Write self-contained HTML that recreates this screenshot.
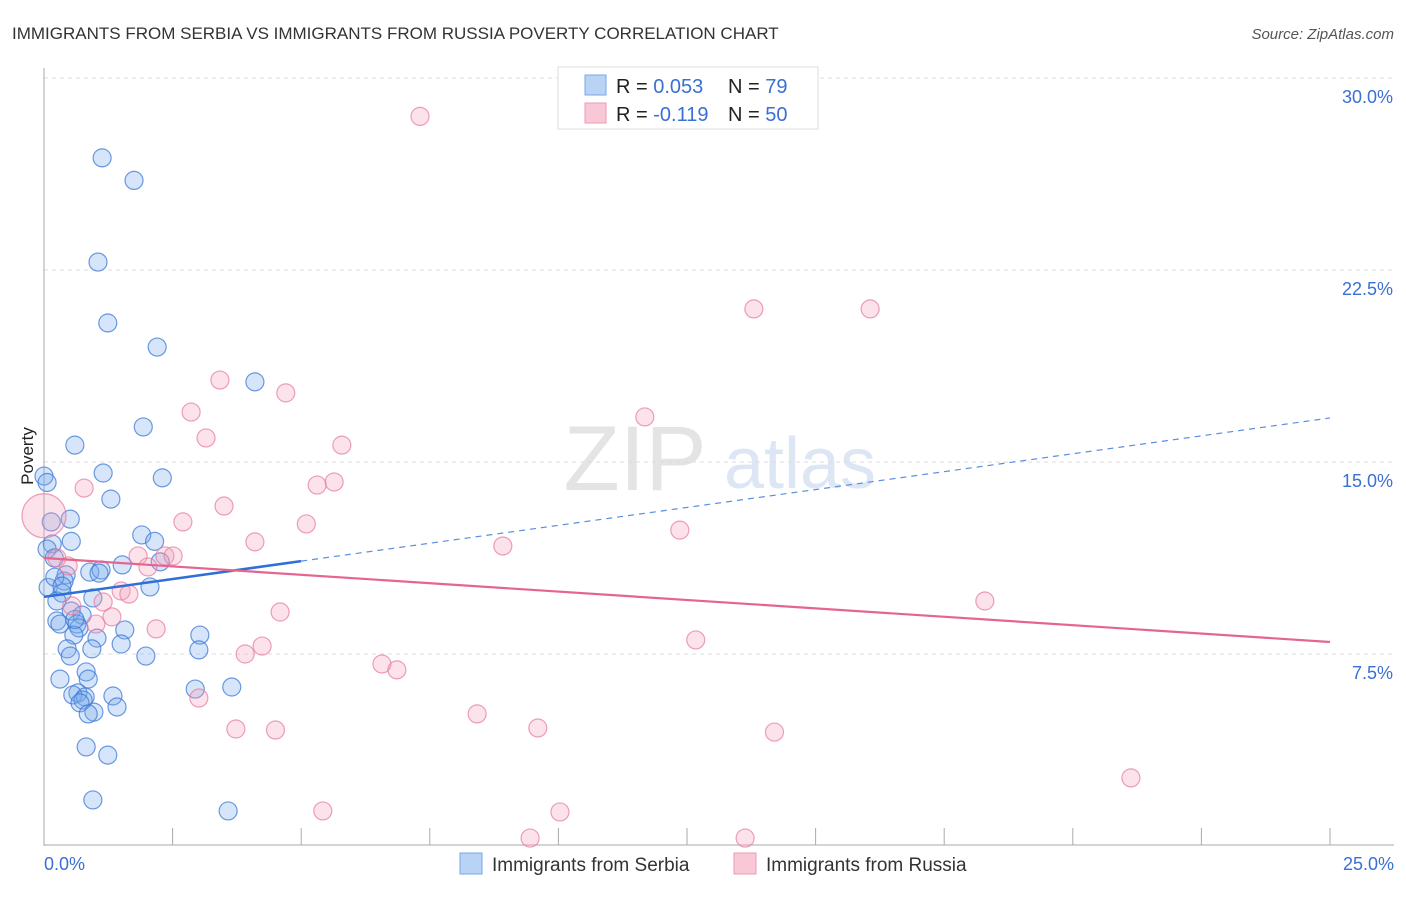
<!DOCTYPE html>
<html><head><meta charset="utf-8"><style>
body{margin:0;background:#fff;font-family:"Liberation Sans",sans-serif;}
svg text{font-family:"Liberation Sans",sans-serif;}
</style></head><body>
<svg width="1406" height="892" viewBox="0 0 1406 892">
<text x="12" y="39" font-size="17" fill="#333">IMMIGRANTS FROM SERBIA VS IMMIGRANTS FROM RUSSIA POVERTY CORRELATION CHART</text>
<text x="1394" y="39" font-size="15" fill="#555" font-style="italic" text-anchor="end">Source: ZipAtlas.com</text>
<g opacity="0.22">
<text x="635" y="490" font-size="92" font-family="Liberation Serif" fill="#888" text-anchor="middle">ZIP</text>
<text x="800" y="488" font-size="72" fill="#6a8fd0" text-anchor="middle">atlas</text>
</g>
<g id="grid"></g>
<g id="axes"></g>
<g id="marks"></g>
<text transform="translate(33,456) rotate(-90)" font-size="17" fill="#222" text-anchor="middle">Poverty</text>
<text x="44" y="870" font-size="18" fill="#3a6fd4">0.0%</text>
<text x="1394" y="870" font-size="18" fill="#3a6fd4" text-anchor="end">25.0%</text>
<g>
<rect x="558" y="67" width="260" height="62" fill="#fff" stroke="#ddd"/>
<rect x="585" y="75" width="21" height="20" fill="#b9d3f5" stroke="#7aa6e6"/>
<rect x="585" y="103" width="21" height="20" fill="#f9c8d6" stroke="#eb9ab3"/>
<text x="616" y="93" font-size="20" fill="#222">R = <tspan fill="#3a6fd4">0.053</tspan><tspan x="728">N = </tspan><tspan fill="#3a6fd4">79</tspan></text>
<text x="616" y="121" font-size="20" fill="#222">R = <tspan fill="#3a6fd4">-0.119</tspan><tspan x="728">N = </tspan><tspan fill="#3a6fd4">50</tspan></text>
</g>
<g>
<rect x="460" y="853" width="22" height="21" fill="#b9d3f5" stroke="#7aa6e6"/>
<text x="492" y="871" font-size="19" fill="#333">Immigrants from Serbia</text>
<rect x="734" y="853" width="22" height="21" fill="#f9c8d6" stroke="#eb9ab3"/>
<text x="766" y="871" font-size="19" fill="#333">Immigrants from Russia</text>
</g>
</svg>
<script>
const yTicks=[7.5,15,22.5,30];
const yTickLabels=["7.5%","15.0%","22.5%","30.0%"];
const xTicks=[0,2.5,5,7.5,10,12.5,15,17.5,20,22.5,25];
const serbiaX=[1.13,1.75,1.05,1.24,2.2,4.1,1.93,0.6,1.15,2.3,0,0.06,1.3,0.51,0.14,1.9,2.15,0.53,0.16,0.06,2.26,1.52,0.89,1.11,1.07,0.43,0.39,0.08,2.06,0.35,0.25,0.95,0.53,0.74,0.25,0.31,0.64,0.68,0.58,3.03,1.57,1.03,1.5,0.45,0.93,0.51,1.98,3.01,0.82,0.31,0.86,3.65,2.94,0.66,0.56,1.34,0.8,0.76,0.7,1.42,0.97,0.86,0.82,1.24,0.95,3.58,0.21,0.2,0.35,0.6];
const serbiaY=[26.88,26.0,22.81,20.43,19.49,18.13,16.37,15.66,14.57,14.38,14.45,14.2,13.55,12.77,12.66,12.15,11.9,11.9,11.8,11.6,11.1,10.98,10.7,10.78,10.66,10.59,10.35,10.1,10.12,9.88,9.57,9.69,9.18,9.02,8.79,8.67,8.67,8.52,8.24,8.24,8.44,8.12,7.89,7.7,7.7,7.42,7.42,7.66,6.8,6.52,6.52,6.21,6.13,5.98,5.9,5.86,5.82,5.7,5.59,5.43,5.23,5.16,3.87,3.55,1.8,1.37,10.5,11.25,10.15,8.85];
const russiaX=[7.31,13.8,16.06,3.42,4.7,2.86,11.68,3.15,5.79,0.78,5.64,5.31,3.5,2.7,5.1,12.36,8.92,4.1,0,2.35,2.51,1.83,0.25,0.47,2.02,1.5,1.65,1.15,0.54,1.32,4.59,2.18,1.01,12.67,4.24,3.91,6.57,6.86,18.29,3.01,8.42,9.6,3.73,4.5,14.2,21.13,5.42,10.03,9.45,13.63];
const russiaY=[28.5,20.98,20.98,18.2,17.7,16.95,16.76,15.94,15.66,13.98,14.22,14.1,13.28,12.66,12.58,12.34,11.72,11.88,12.9,11.33,11.33,11.33,11.25,10.94,10.9,9.96,9.84,9.53,9.38,8.95,9.14,8.48,8.67,8.05,7.81,7.5,7.11,6.88,9.57,5.78,5.16,4.61,4.57,4.53,4.45,2.66,1.37,1.33,0.31,0.31];
const russiaR=[9,9,9,9,9,9,9,9,9,9,9,9,9,9,9,9,9,9,22,9,9,9,9,9,9,9,9,9,9,9,9,9,9,9,9,9,9,9,9,9,9,9,9,9,9,9,9,9,9,9];
const serbiaTrend=[9.73,16.72];
const russiaTrend=[11.25,7.97];
const X0=44,X1=1330,Y0=846,Y1=78;
const sx=v=>X0+(v/25)*(X1-X0);
const sy=v=>Y0-(v/30)*(Y0-Y1);
const NS="http://www.w3.org/2000/svg";
function mk(tag,attrs,parent){const e=document.createElementNS(NS,tag);for(const k in attrs)e.setAttribute(k,attrs[k]);parent.appendChild(e);return e;}
const grid=document.getElementById('grid'),axes=document.getElementById('axes'),marks=document.getElementById('marks');
yTicks.forEach((t,i)=>{
 const l=mk('line',{x1:X0,x2:1394,y1:sy(t),y2:sy(t),stroke:'#ddd','stroke-dasharray':'4,4'},grid);
 
 
 const tx=mk('text',{x:1393,y:sy(t)+25,'font-size':18,fill:'#3a6fd4','text-anchor':'end'},grid);
 tx.textContent=yTickLabels[i];
 
 
});
const ax=mk('line',{x1:X0,x2:X0,y1:68,y2:846,stroke:'#aaa'},axes);


const bx=mk('line',{x1:X0,x2:1394,y1:845,y2:845,stroke:'#aaa'},axes);


xTicks.forEach(t=>{
 const l=mk('line',{x1:sx(t),x2:sx(t),y1:828,y2:845,stroke:'#aaa'},axes);
 
 
});
serbiaX.forEach((x,i)=>{
 const c=mk('circle',{cx:sx(x),cy:sy(serbiaY[i]),r:9,fill:'rgba(120,170,235,0.3)',stroke:'rgba(60,120,215,0.75)','stroke-width':1.2},marks);
 
 
});
russiaX.forEach((x,i)=>{
 const c=mk('circle',{cx:sx(x),cy:sy(russiaY[i]),r:russiaR[i],fill:'rgba(245,160,185,0.3)',stroke:'rgba(230,120,155,0.7)','stroke-width':1.2},marks);
 
 
});
const bt=x=>serbiaTrend[0]+(serbiaTrend[1]-serbiaTrend[0])*x/25;
const l1=mk('line',{x1:sx(0),y1:sy(bt(0)),x2:sx(5),y2:sy(bt(5)),stroke:'#2f6fd6','stroke-width':2.5},marks);


const l2=mk('line',{x1:sx(5),y1:sy(bt(5)),x2:sx(25),y2:sy(bt(25)),stroke:'#5a8ee0','stroke-width':1.2,'stroke-dasharray':'6,5'},marks);


const l3=mk('line',{x1:sx(0),y1:sy(russiaTrend[0]),x2:sx(25),y2:sy(russiaTrend[1]),stroke:'#e46592','stroke-width':2.2},marks);


</script>
</body></html>
